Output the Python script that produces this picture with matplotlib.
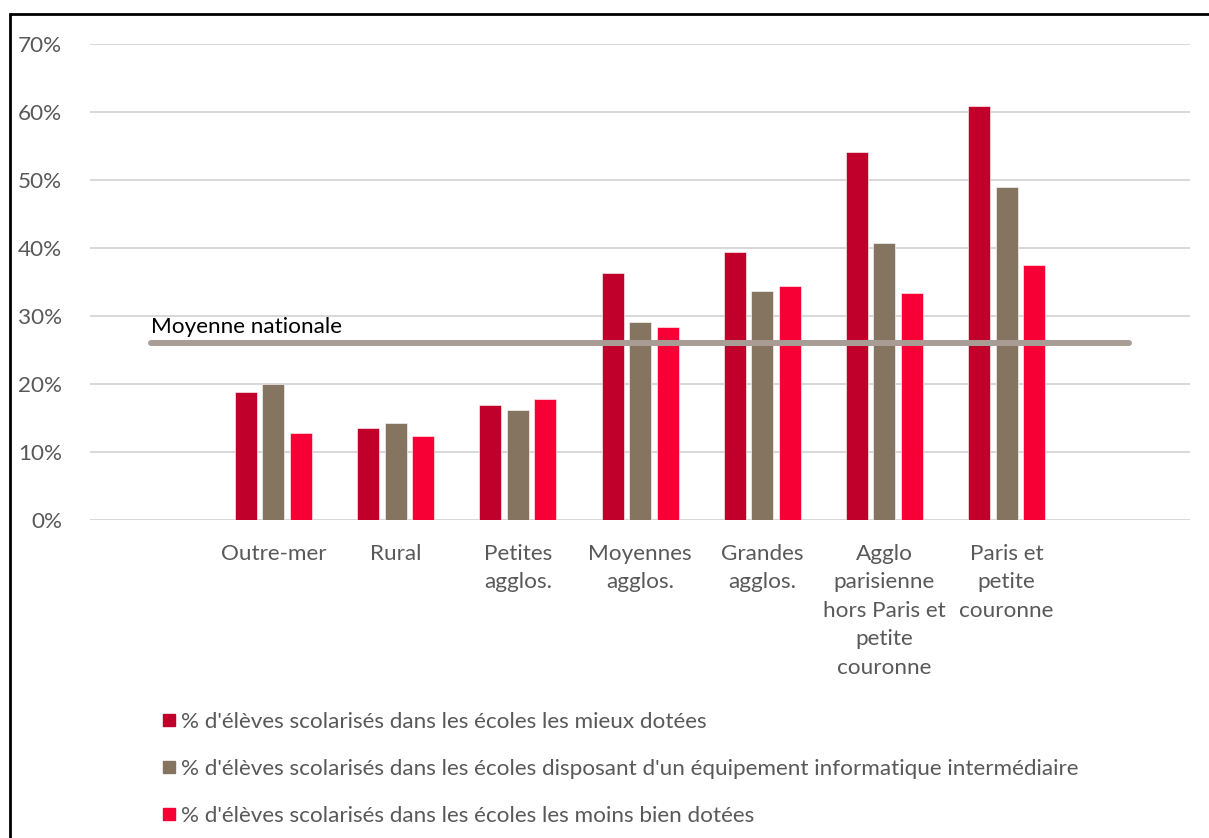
import matplotlib.pyplot as plt
from matplotlib.lines import Line2D
from matplotlib.patches import Rectangle
import numpy as np

plt.rcParams['font.family'] = ['Lato', 'DejaVu Sans']

categories = ['Outre-mer', 'Rural', 'Petites\nagglos.', 'Moyennes\nagglos.',
              'Grandes\nagglos.', 'Agglo\nparisienne\nhors Paris et\npetite\ncouronne',
              'Paris et\npetite\ncouronne']
mieux_dotees = [18.8, 13.5, 16.9, 36.3, 39.4, 54.1, 60.9]
intermediaire = [20.0, 14.3, 16.2, 29.1, 33.7, 40.7, 49.0]
moins_dotees = [12.8, 12.4, 17.8, 28.4, 34.4, 33.4, 37.5]
# national average, drawn across the empty slot before and after the categories
moyenne_nationale = [26.0, 26.0, 26.0, 26.0, 26.0, 26.0, 26.0, 26.0, 26.0]

labels = ["% d'élèves scolarisés dans les écoles les mieux dotées",
          "% d'élèves scolarisés dans les écoles disposant d'un équipement informatique intermédiaire",
          "% d'élèves scolarisés dans les écoles les moins bien dotées"]
colors = ['#C0002A', '#857560', '#F70035']
grey_text = '#595959'
fs = 16.2

fig = plt.figure(figsize=(12.09, 8.38), dpi=100)
ax = fig.add_axes([90 / 1209, 1 - 520 / 838, 1100 / 1209, 476 / 838])

x = np.arange(1, len(categories) + 1)
width = 0.18
step = 0.225
for i, (vals, c) in enumerate(zip([mieux_dotees, intermediaire, moins_dotees], colors)):
    ax.bar(x + (i - 1) * step, np.array(vals) / 100, width, color=c,
           edgecolor='white', linewidth=0.4, zorder=3)

ax.plot(np.arange(len(moyenne_nationale)), np.array(moyenne_nationale) / 100,
        color='#A89C94', lw=4.3, solid_capstyle='round', zorder=4)
ax.text(0, 0.269, 'Moyenne nationale', fontsize=fs, color='black',
        ha='left', va='bottom')

ax.set_xlim(-0.5, len(categories) + 1.5)
ax.set_ylim(0, 0.7)
ax.set_yticks(np.arange(0, 0.71, 0.1))
ax.set_yticklabels([f'{int(round(v * 100))}%' for v in np.arange(0, 0.71, 0.1)])
ax.set_xticks(x)
ax.set_xticklabels(categories, linespacing=1.53)
ax.tick_params(axis='y', length=0, pad=20, labelsize=fs, labelcolor=grey_text)
ax.tick_params(axis='x', length=0, pad=17, labelsize=fs, labelcolor=grey_text)
ax.grid(axis='y', color='#D9D9D9', lw=1.5, zorder=0)
for s in ax.spines.values():
    s.set_visible(False)

handles = [Line2D([], [], marker='s', ls='none', markersize=9, color=c) for c in colors]
fig.legend(handles, labels, loc='upper left', bbox_to_anchor=(152 / 1209, 1 - 703 / 838),
           frameon=False, fontsize=fs, labelcolor=grey_text, handlelength=0.7,
           handletextpad=0.2, labelspacing=1.2, borderaxespad=0)

# chart frame (left and top edges visible)
fig.add_artist(Rectangle((10 / 1209, -0.1), 1.2, 1.1 - 14 / 838, transform=fig.transFigure,
                         fill=False, edgecolor='black', lw=2))

fig.savefig('out.png', dpi=100)
